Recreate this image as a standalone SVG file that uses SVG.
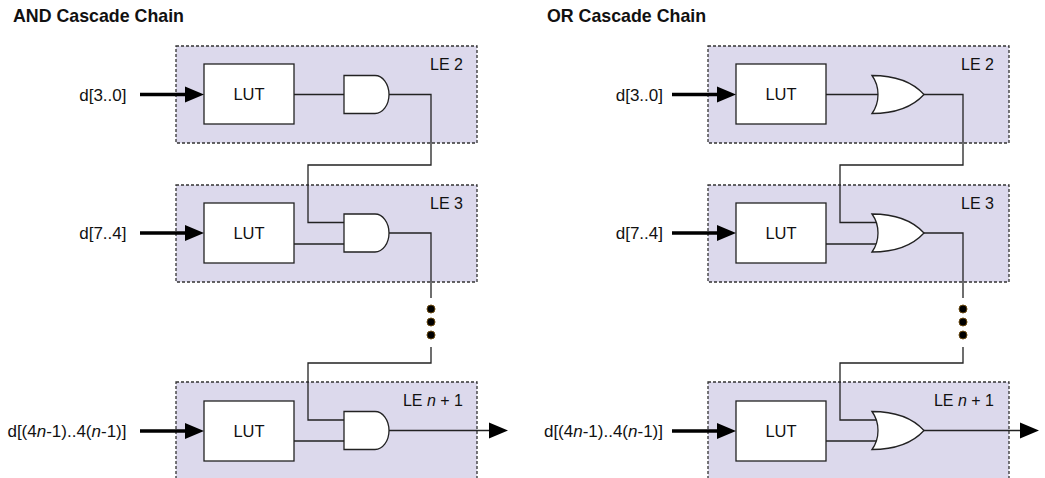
<svg xmlns="http://www.w3.org/2000/svg" width="1045" height="478" viewBox="0 0 1045 478">
<style>
.title{font-family:"Liberation Sans",Arial,sans-serif;font-weight:bold;font-size:17.8px;fill:#111}
.lbl{font-family:"Liberation Sans",Arial,sans-serif;font-size:17px;fill:#111}
.lut-t{font-family:"Liberation Sans",Arial,sans-serif;font-size:16.5px;fill:#111}
.le{font-family:"Liberation Sans",Arial,sans-serif;font-size:16px;fill:#111}
.lebox{fill:#dcd9ec;stroke:#333;stroke-width:1.3;stroke-dasharray:3 2}
.lut{fill:#fff;stroke:#222;stroke-width:1.3}
.gate{fill:#fff;stroke:#222;stroke-width:1.3}
.wire{fill:none;stroke:#222;stroke-width:1.3}
.bus{fill:none;stroke:#000;stroke-width:3.5}
.head{fill:#000}
.dot{fill:#000;stroke:#6b4a10;stroke-width:1}
</style>
<defs>
<path id="and" d="M0,-19 H31 A14,19 0 0 1 31,19 H0 Z" class="gate"/>
<path id="or" d="M0,-19 C23,-19 41,-12 52,0 C41,12 23,19 0,19 C8,8 8,-8 0,-19 Z" class="gate"/>
<path id="ah" d="M0,-8 L19,0 L0,8 Z" class="head"/>
</defs>

<text class="title" x="13" y="22">AND Cascade Chain</text>
<text class="title" x="547" y="22">OR Cascade Chain</text>

<!-- AND chain -->
<g id="and-le2">
<rect class="lebox" x="176" y="46" width="301" height="97"/>
<text class="le" x="463" y="70" text-anchor="end">LE 2</text>
<rect class="lut" x="204" y="64" width="90" height="60"/>
<text class="lut-t" x="249" y="100" text-anchor="middle">LUT</text>
</g>
<g id="and-le3">
<rect class="lebox" x="176" y="185" width="301" height="97"/>
<text class="le" x="463" y="209" text-anchor="end">LE 3</text>
<rect class="lut" x="204" y="203" width="90" height="60"/>
<text class="lut-t" x="249" y="239" text-anchor="middle">LUT</text>
</g>
<g id="and-len1">
<rect class="lebox" x="176" y="382" width="301" height="100"/>
<text class="le" x="463" y="406" text-anchor="end">LE <tspan font-style="italic">n</tspan> + 1</text>
<rect class="lut" x="204" y="401" width="90" height="60"/>
<text class="lut-t" x="249" y="437" text-anchor="middle">LUT</text>
</g>

<!-- OR chain -->
<g id="or-le2">
<rect class="lebox" x="708" y="46" width="301" height="97"/>
<text class="le" x="994" y="70" text-anchor="end">LE 2</text>
<rect class="lut" x="736" y="64" width="90" height="60"/>
<text class="lut-t" x="781" y="100" text-anchor="middle">LUT</text>
</g>
<g id="or-le3">
<rect class="lebox" x="708" y="185" width="301" height="97"/>
<text class="le" x="994" y="209" text-anchor="end">LE 3</text>
<rect class="lut" x="736" y="203" width="90" height="60"/>
<text class="lut-t" x="781" y="239" text-anchor="middle">LUT</text>
</g>
<g id="or-len1">
<rect class="lebox" x="708" y="382" width="301" height="100"/>
<text class="le" x="994" y="406" text-anchor="end">LE <tspan font-style="italic">n</tspan> + 1</text>
<rect class="lut" x="736" y="401" width="90" height="60"/>
<text class="lut-t" x="781" y="437" text-anchor="middle">LUT</text>
</g>

<g id="inputs">
<text class="lbl" x="126.5" y="100.5" text-anchor="end">d[3..0]</text>
<text class="lbl" x="126.5" y="239" text-anchor="end">d[7..4]</text>
<text class="lbl" x="126.5" y="437" text-anchor="end">d[(4<tspan font-style="italic">n</tspan>-1)..4(<tspan font-style="italic">n</tspan>-1)]</text>
<text class="lbl" x="663" y="100.5" text-anchor="end">d[3..0]</text>
<text class="lbl" x="663" y="239" text-anchor="end">d[7..4]</text>
<text class="lbl" x="663" y="437" text-anchor="end">d[(4<tspan font-style="italic">n</tspan>-1)..4(<tspan font-style="italic">n</tspan>-1)]</text>
</g>

<g id="connectors">
<!-- input buses -->
<path class="bus" d="M140,94.5 H187 M140,233 H187 M140,431 H187"/>
<use href="#ah" x="185" y="94.5"/>
<use href="#ah" x="185" y="233"/>
<use href="#ah" x="185" y="431"/>
<path class="bus" d="M672,94.5 H719 M672,233 H719 M672,431 H719"/>
<use href="#ah" x="717" y="94.5"/>
<use href="#ah" x="717" y="233"/>
<use href="#ah" x="717" y="431"/>

<!-- AND wires -->
<path class="wire" d="M294,94.5 H344"/>
<path class="wire" d="M389,94.5 H431 V165 H308 V222.5 H344"/>
<path class="wire" d="M294,244 H344"/>
<path class="wire" d="M389,233 H431 V298"/>
<path class="wire" d="M431,347 V363 H308 V420 H344"/>
<path class="wire" d="M294,441 H344"/>
<path class="wire" d="M389,430.5 H491"/>
<use href="#ah" x="489" y="430.5"/>
<circle class="dot" cx="431" cy="309" r="4"/>
<circle class="dot" cx="431" cy="322" r="4"/>
<circle class="dot" cx="431" cy="335" r="4"/>

<!-- OR wires -->
<path class="wire" d="M826,94.5 H878"/>
<path class="wire" d="M924,94.5 H963 V165 H840 V222.5 H877"/>
<path class="wire" d="M826,244 H877"/>
<path class="wire" d="M924,233 H963 V298"/>
<path class="wire" d="M963,347 V363 H840 V420 H877"/>
<path class="wire" d="M826,441 H877"/>
<path class="wire" d="M924,430.5 H1022"/>
<use href="#ah" x="1020" y="430.5"/>
<circle class="dot" cx="963" cy="309" r="4"/>
<circle class="dot" cx="963" cy="322" r="4"/>
<circle class="dot" cx="963" cy="335" r="4"/>
</g>

<g id="and-gates">
<use href="#and" x="344" y="94.5"/>
<use href="#and" x="344" y="233"/>
<use href="#and" x="344" y="430.5"/>
</g>
<g id="or-gates">
<use href="#or" x="872" y="94.5"/>
<use href="#or" x="872" y="233"/>
<use href="#or" x="872" y="430.5"/>
</g>
</svg>
